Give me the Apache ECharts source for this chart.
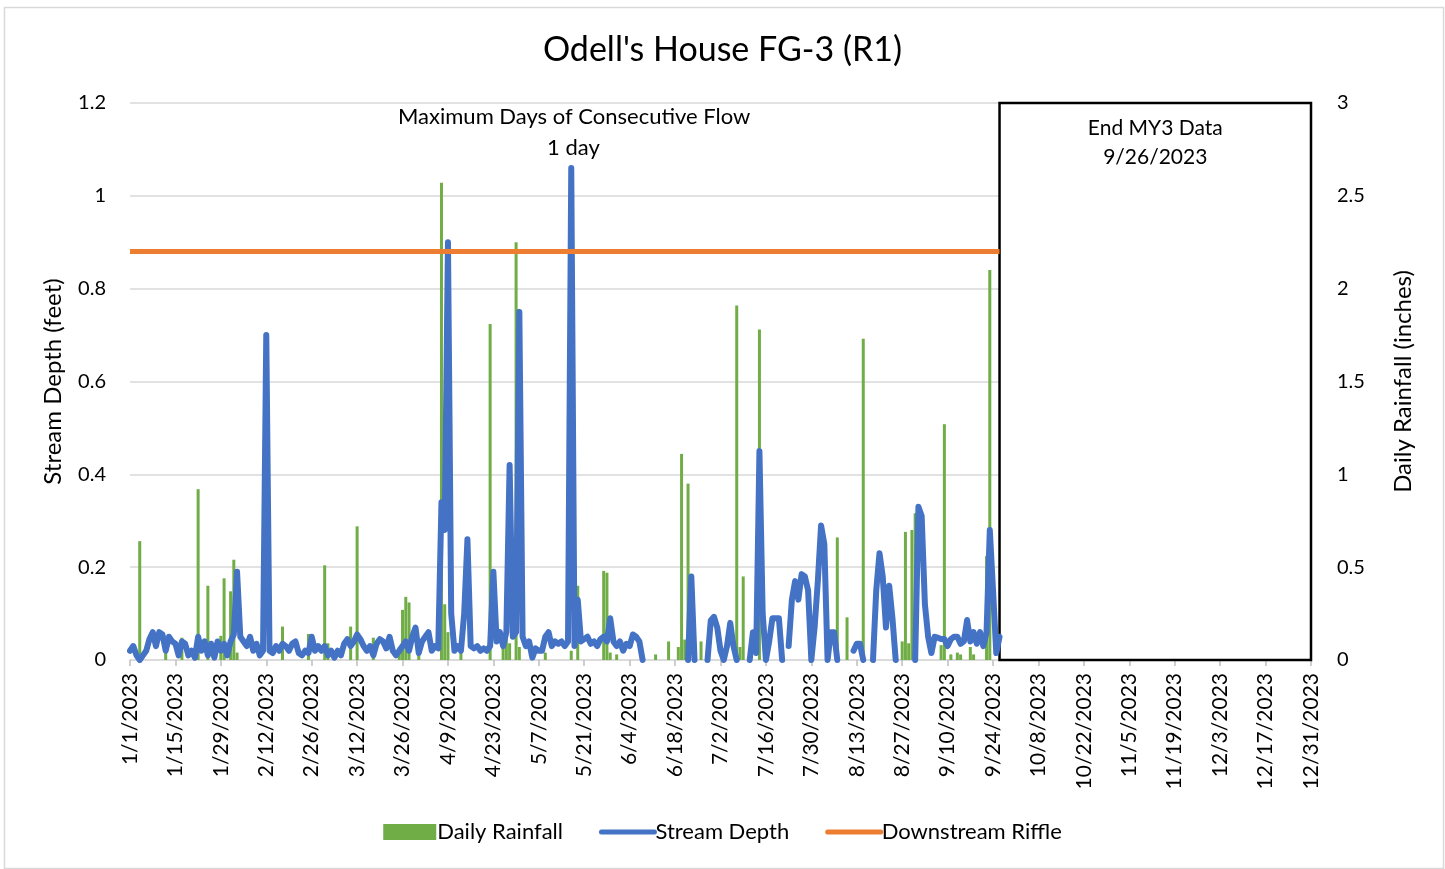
<!DOCTYPE html>
<html>
<head>
<meta charset="utf-8">
<title>Odell's House FG-3 (R1)</title>
<script src="https://cdn.jsdelivr.net/npm/echarts@6/dist/echarts.min.js"></script>
<style>
  html, body { margin: 0; padding: 0; background: #fff; }
  #chart { width: 1445px; height: 869px; }
</style>
</head>
<body>
<div id="chart"></div>
<script>
// stream depth (feet), one value per day from 1/1/2023, logger stops 9/26/2023
// null = gauge dry / below the axis
var depthFt = [
  0.02, 0.03, 0.01, 0.00, 0.01, 0.02, 0.045, 0.06, 0.03, 0.06,
  0.055, 0.02, 0.05, 0.04, 0.035, 0.01, 0.04, 0.035, 0.01, 0.02,
  0.005, 0.05, 0.02, 0.04, 0.01, 0.035, 0.005, 0.04, 0.02, 0.035,
  0.01, 0.04, 0.055, 0.19, 0.05, 0.04, 0.03, 0.05, 0.02, 0.035,
  0.01, 0.02, 0.70, 0.02, 0.015, 0.03, 0.02, 0.035, 0.03, 0.02,
  0.035, 0.04, 0.015, 0.01, 0.02, 0.015, 0.05, 0.02, 0.03, 0.02,
  0.03, 0.01, 0.02, 0.005, 0.02, 0.01, 0.035, 0.045, 0.03, 0.04,
  0.055, 0.045, 0.03, 0.02, 0.03, 0.01, 0.035, 0.045, 0.04, 0.025,
  0.05, 0.02, 0.01, 0.02, 0.03, 0.04, 0.02, 0.05, 0.07, 0.015,
  0.04, 0.05, 0.06, 0.02, 0.03, 0.025, 0.34, 0.28, 0.90, 0.10,
  0.02, 0.03, 0.02, 0.10, 0.26, 0.03, 0.025, 0.03, 0.02, 0.025,
  0.02, 0.03, 0.19, 0.04, 0.06, 0.03, 0.06, 0.42, 0.05, 0.06,
  0.75, 0.05, 0.03, 0.04, 0.005, 0.025, 0.02, 0.02, 0.05, 0.06,
  0.03, 0.04, 0.035, 0.04, 0.03, 0.04, 1.06, 0.03, 0.13, 0.04,
  0.045, 0.05, 0.035, 0.04, 0.03, 0.045, 0.05, 0.04, 0.09, 0.04,
  0.03, 0.04, 0.02, 0.035, 0.03, 0.055, 0.05, 0.04, 0.00, null,
  null, null, null, null, null, null, null, null, null, null,
  null, null, 0.00, 0.18, 0.00, null, null, null, 0.00, 0.085,
  0.093, 0.07, 0.02, 0.00, 0.03, 0.08, 0.03, 0.00, null, null,
  null, 0.00, 0.06, 0.015, 0.45, 0.10, 0.00, 0.04, 0.09, 0.09,
  0.09, 0.00, null, 0.03, 0.13, 0.17, 0.13, 0.185, 0.18, 0.15,
  0.00, 0.07, 0.17, 0.29, 0.25, 0.00, 0.06, 0.06, 0.00, null,
  null, null, null, 0.02, 0.035, 0.035, 0.00, null, null, 0.00,
  0.15, 0.23, 0.18, 0.07, 0.16, 0.09, 0.00, null, null, null,
  null, null, 0.00, 0.33, 0.31, 0.12, 0.05, 0.015, 0.05, 0.048,
  0.045, 0.045, 0.03, 0.045, 0.05, 0.05, 0.035, 0.04, 0.086, 0.04,
  0.06, 0.035, 0.06, 0.03, 0.06, 0.28, 0.15, 0.015, 0.05
];

// daily rainfall (inches), only the days with rain
var rainDates = [
  '1/4/2023', '1/12/2023', '1/17/2023', '1/22/2023', '1/25/2023', '1/29/2023', '1/30/2023',
  '2/1/2023', '2/2/2023', '2/3/2023', '2/17/2023', '2/25/2023',
  '3/2/2023', '3/3/2023', '3/10/2023', '3/12/2023', '3/17/2023', '3/25/2023', '3/26/2023',
  '3/27/2023', '3/28/2023', '3/31/2023',
  '4/7/2023', '4/8/2023', '4/9/2023', '4/13/2023', '4/22/2023', '4/26/2023', '4/27/2023',
  '4/28/2023', '4/30/2023',
  '5/1/2023', '5/9/2023', '5/17/2023', '5/19/2023', '5/27/2023', '5/28/2023', '5/29/2023', '5/31/2023',
  '6/12/2023', '6/16/2023', '6/19/2023', '6/20/2023', '6/21/2023', '6/22/2023', '6/26/2023',
  '7/7/2023', '7/8/2023', '7/9/2023', '7/14/2023',
  '8/7/2023', '8/10/2023', '8/15/2023', '8/27/2023', '8/28/2023', '8/29/2023', '8/30/2023', '8/31/2023',
  '9/8/2023', '9/9/2023', '9/11/2023', '9/13/2023', '9/14/2023', '9/17/2023', '9/18/2023',
  '9/22/2023', '9/23/2023'
];
var rainInches = [
  0.64, 0.12, 0.12, 0.92, 0.40, 0.13, 0.44,
  0.37, 0.54, 0.04, 0.18, 0.14,
  0.51, 0.09, 0.18, 0.72, 0.12, 0.07, 0.27,
  0.34, 0.31, 0.09,
  2.57, 0.30, 0.15, 0.04, 1.81, 0.11, 0.23,
  0.09, 2.25,
  0.07, 0.04, 0.05, 0.40, 0.48, 0.47, 0.04, 0.03,
  0.03, 0.10, 0.07, 1.11, 0.11, 0.95, 0.10,
  1.91, 0.07, 0.45, 1.78,
  0.66, 0.23, 1.73, 0.10, 0.69, 0.09, 0.70, 0.79,
  0.08, 1.27, 0.03, 0.04, 0.03, 0.07, 0.03,
  0.56, 2.10
];

var riffleFt = 0.88;
var endDate = '9/26/2023';

var leftTicks = [0, 0.2, 0.4, 0.6, 0.8, 1, 1.2];
var rightTicks = [0, 0.5, 1, 1.5, 2, 2.5, 3];

// every day of 2023 as a category
var days = [];
for (var i = 0; i < 365; i++) {
  var dt = new Date(Date.UTC(2023, 0, 1 + i));
  days.push((dt.getUTCMonth() + 1) + '/' + dt.getUTCDate() + '/' + dt.getUTCFullYear());
}

var rainData = rainDates.map(function (d, k) { return [d, rainInches[k]]; });
var riffleData = [[days[0], riffleFt], [endDate, riffleFt]];

var FONT = 'Lato';
var myChart = echarts.init(document.getElementById('chart'));
myChart.setOption({
  animation: false,
  textStyle: { fontFamily: FONT, color: '#000' },
  title: {
    text: "Odell's House FG-3 (R1)",
    left: 'center',
    top: 28,
    textStyle: { fontFamily: FONT, fontSize: 34, fontWeight: 'normal', color: '#000' }
  },
  legend: {
    bottom: 21,
    left: 'center',
    itemGap: 36,
    itemWidth: 53,
    itemHeight: 16,
    textStyle: { fontFamily: FONT, fontSize: 22, color: '#000', padding: [0, 0, 0, -4] },
    data: [
      { name: 'Daily Rainfall', icon: 'rect' },
      { name: 'Stream Depth', itemStyle: { opacity: 0 }, lineStyle: { width: 5, cap: 'round' } },
      { name: 'Downstream Riffle', itemStyle: { opacity: 0 }, lineStyle: { width: 5, cap: 'round' } }
    ]
  },
  grid: { left: 130, right: 134, top: 103, bottom: 209, containLabel: false },
  xAxis: {
    type: 'category',
    data: days,
    boundaryGap: false,
    axisLine: { lineStyle: { color: '#d9d9d9', width: 1.5 } },
    axisTick: { interval: 13, length: 6, lineStyle: { color: '#bfbfbf', width: 1.5 } },
    axisLabel: {
      interval: 13,
      rotate: 90,
      margin: 13,
      fontFamily: FONT,
      fontSize: 21,
      color: '#000'
    },
    splitLine: { show: false }
  },
  yAxis: [
    {
      type: 'value',
      min: leftTicks[0],
      max: leftTicks[leftTicks.length - 1],
      interval: 0.2,
      name: 'Stream Depth (feet)',
      nameLocation: 'middle',
      nameGap: 65,
      nameTextStyle: { fontFamily: FONT, fontSize: 24, color: '#000' },
      axisLine: { show: false },
      axisTick: { show: false },
      axisLabel: { margin: 24, fontFamily: FONT, fontSize: 20, color: '#000' },
      splitLine: { lineStyle: { color: '#d9d9d9', width: 1.5 } }
    },
    {
      type: 'value',
      min: rightTicks[0],
      max: rightTicks[rightTicks.length - 1],
      interval: 0.5,
      name: 'Daily Rainfall (inches)',
      nameLocation: 'middle',
      nameGap: 80,
      nameTextStyle: { fontFamily: FONT, fontSize: 24, color: '#000' },
      axisLine: { show: false },
      axisTick: { show: false },
      axisLabel: { margin: 26, fontFamily: FONT, fontSize: 20, color: '#000' },
      splitLine: { show: false }
    }
  ],
  series: [
    {
      name: 'Daily Rainfall',
      type: 'bar',
      yAxisIndex: 1,
      barWidth: 3,
      itemStyle: { color: '#70AD47' },
      data: rainData
    },
    {
      name: 'Stream Depth',
      type: 'line',
      yAxisIndex: 0,
      showSymbol: false,
      symbol: 'none',
      connectNulls: false,
      lineStyle: { color: '#4472C4', width: 6, cap: 'round', join: 'round' },
      itemStyle: { color: '#4472C4' },
      data: depthFt,
      markArea: {
        silent: true,
        itemStyle: { color: '#fff', borderColor: '#000', borderWidth: 2.5 },
        label: {
          show: true,
          position: 'insideTop',
          distance: 12,
          formatter: 'End MY3 Data\n' + endDate,
          fontFamily: FONT,
          fontSize: 21,
          lineHeight: 29,
          color: '#000'
        },
        data: [[
          { xAxis: endDate, yAxis: leftTicks[leftTicks.length - 1] },
          { xAxis: days[days.length - 1], yAxis: 0 }
        ]]
      }
    },
    {
      name: 'Downstream Riffle',
      type: 'line',
      yAxisIndex: 0,
      showSymbol: false,
      symbol: 'none',
      lineStyle: { color: '#ED7D31', width: 5 },
      itemStyle: { color: '#ED7D31' },
      data: riffleData
    }
  ],
  graphic: [
    {
      type: 'rect',
      left: 2, top: 5,
      shape: { width: 1439, height: 861 },
      style: { fill: 'none', stroke: '#d9d9d9', lineWidth: 1.5 },
      silent: true
    },
    {
      type: 'text',
      left: 398, top: 106,
      style: {
        text: 'Maximum Days of Consecutive Flow',
        fontFamily: FONT, fontSize: 22, fill: '#000'
      }
    },
    {
      type: 'text',
      left: 547, top: 137,
      style: { text: '1 day', fontFamily: FONT, fontSize: 22, fill: '#000' }
    }
  ]
});
window.addEventListener('resize', function () {
  myChart.resize();
});
</script>
</body>
</html>
